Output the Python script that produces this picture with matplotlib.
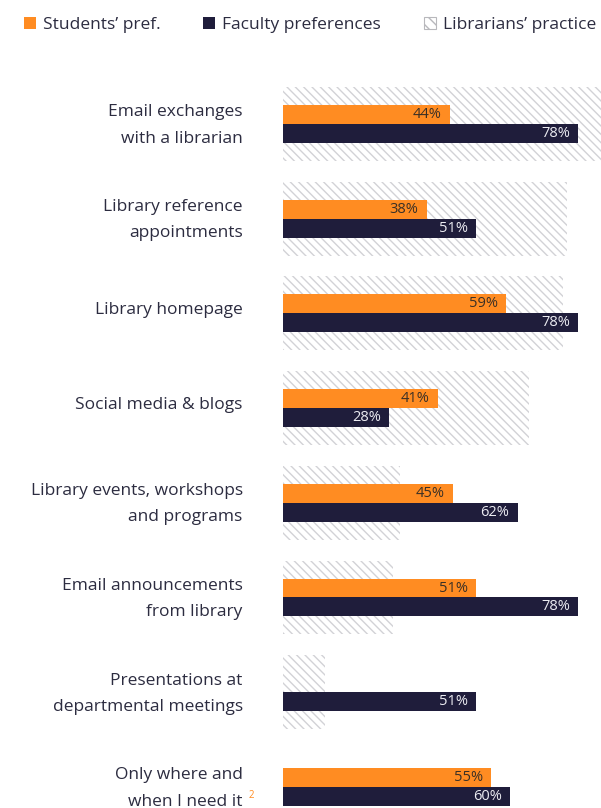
import numpy as np
import matplotlib.pyplot as plt
import matplotlib.transforms as mtransforms
from matplotlib.patches import Patch

plt.rcParams['font.family'] = ['Open Sans', 'DejaVu Sans']
plt.rcParams['hatch.linewidth'] = 1.0

categories = [
    "Email exchanges\nwith a librarian",
    "Library reference\nappointments",
    "Library homepage",
    "Social media & blogs",
    "Library events, workshops\nand programs",
    "Email announcements\nfrom library",
    "Presentations at\ndepartmental meetings",
    "Only where and\nwhen I need it",
]
students = [44, 38, 59, 41, 45, 51, None, 55]
faculty = [78, 51, 78, 28, 62, 78, 51, 60]
librarians = [84, 75, 74, 65, 31, 29, 11, None]

series_names = ["Students\u2019 pref.", "Faculty preferences", "Librarians\u2019 practice"]

ORANGE = '#FF8C22'
NAVY = '#1F1D3B'
HATCH = '#d2d2d6'
TEXT = '#2c2c40'

fig = plt.figure(figsize=(6.01, 8.08), dpi=100)
ax = fig.add_axes([283 / 601, 0, 1 - 283 / 601, 758 / 808])

y = np.arange(len(categories))
lib_vals = [v if v is not None else 0 for v in librarians]
stu_vals = [v if v is not None else 0 for v in students]

ax.barh(y, lib_vals, height=0.78, color='white', edgecolor=HATCH,
        hatch='\\\\\\\\', lw=0, zorder=1)
ax.barh(y - 0.1, stu_vals, height=0.2, color=ORANGE, zorder=2)
ax.barh(y + 0.1, faculty, height=0.2, color=NAVY, zorder=2)

# value labels at the end of each bar
for i in range(len(categories)):
    if students[i] is not None:
        ax.annotate(f"{students[i]}%", xy=(students[i], y[i] - 0.1),
                    xytext=(-6, 0), textcoords='offset points',
                    ha='right', va='center', fontsize=10.5, color='#3a3026', zorder=3)
    ax.annotate(f"{faculty[i]}%", xy=(faculty[i], y[i] + 0.1),
                xytext=(-6, 0), textcoords='offset points',
                ha='right', va='center', fontsize=10.5, color='#ececf2', zorder=3)

ax.set_xlim(0, 84)
ax.set_ylim(7.223, -0.781)
ax.set_xticks([])
ax.set_yticks(y, categories, fontsize=12.5, color=TEXT, linespacing=1.85)
ax.tick_params(axis='y', length=0, pad=29)
for s in ax.spines.values():
    s.set_visible(False)

# nudge the category labels up a little
shift = mtransforms.ScaledTranslation(0, 4 / 72, fig.dpi_scale_trans)
for lbl in ax.get_yticklabels():
    lbl.set_transform(lbl.get_transform() + shift)

last = ax.get_yticklabels()[-1]
ax.annotate("2", xy=(1, 0), xycoords=last, xytext=(4, 8),
            textcoords='offset points', fontsize=7, color=ORANGE)

handles = [
    Patch(facecolor=ORANGE, edgecolor='none'),
    Patch(facecolor=NAVY, edgecolor='none'),
    Patch(facecolor='white', edgecolor='#b8b8bc', hatch='\\\\\\', lw=0.8),
]
fig.legend(handles, series_names, loc='upper left', bbox_to_anchor=(0.014, 0.998),
           ncol=3, frameon=False, handlelength=0.7, handleheight=0.7,
           handletextpad=0.4, columnspacing=2.45, fontsize=12.5, labelcolor=TEXT)

fig.savefig('out.png', dpi=100)
